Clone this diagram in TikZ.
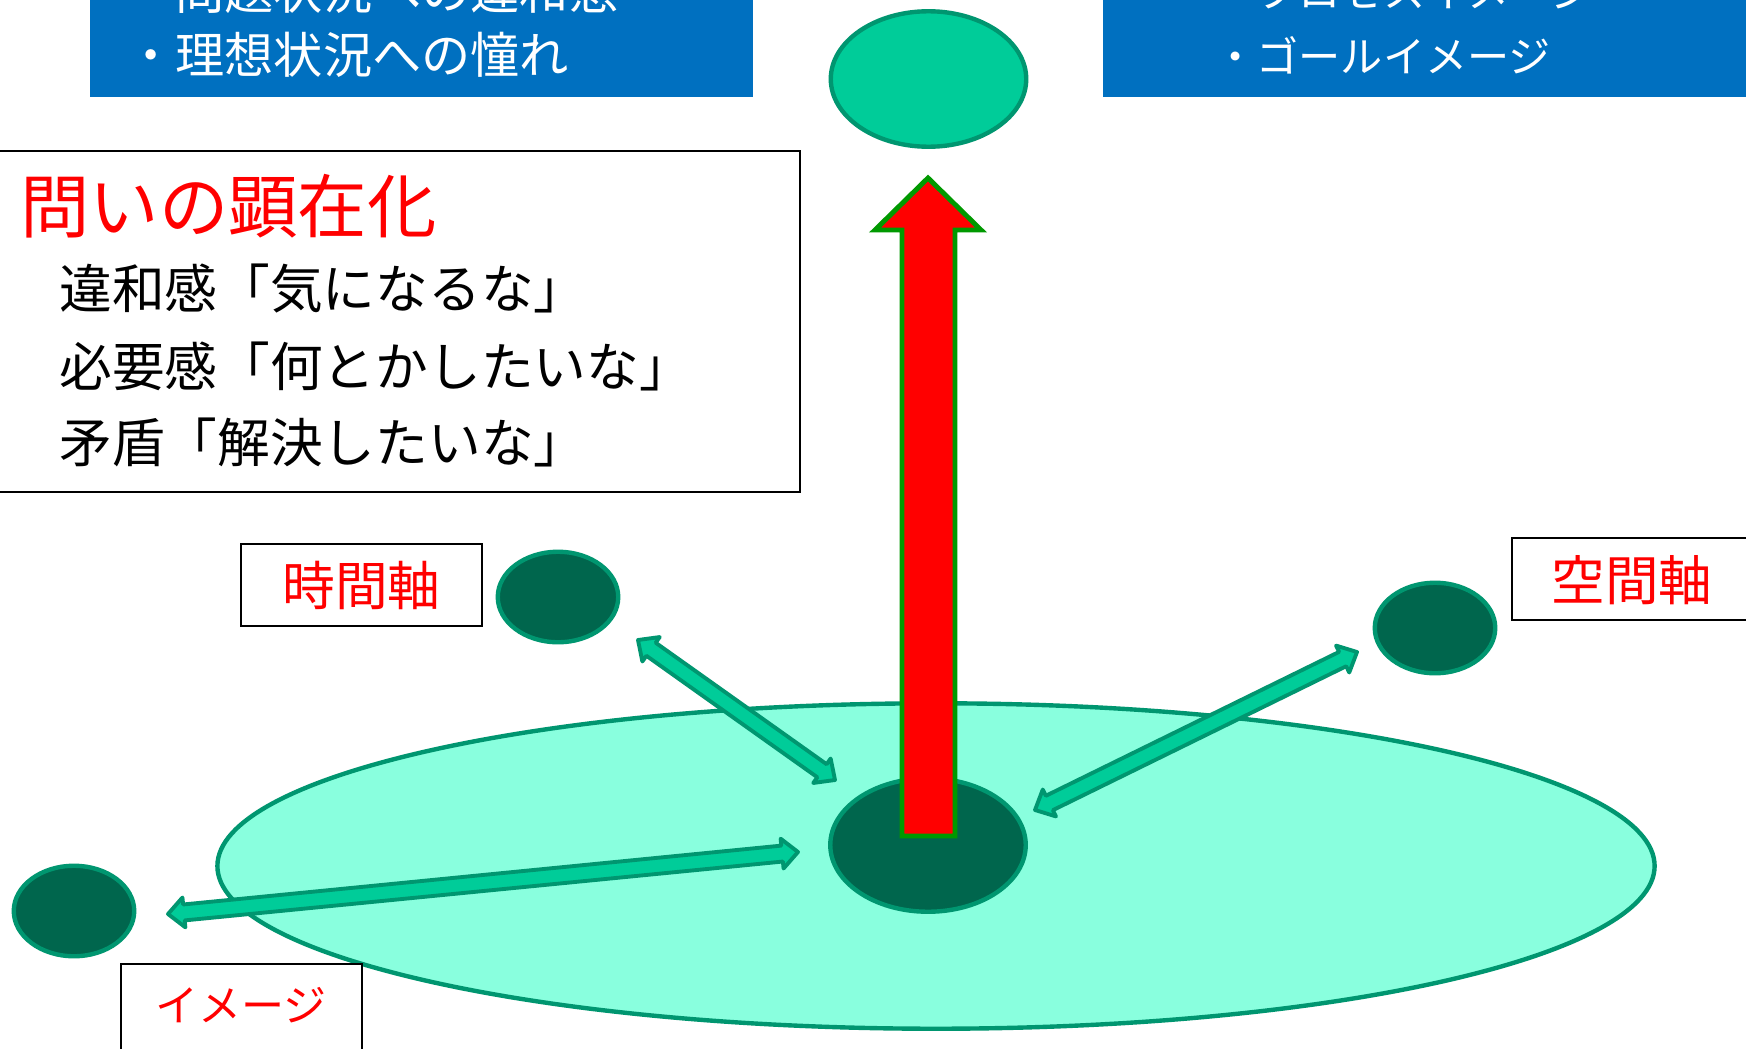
\documentclass[tikz,border=0pt]{standalone}
\usepackage{fontspec}
\setmainfont{Noto Sans CJK JP}
\usetikzlibrary{shapes.geometric,calc}
\definecolor{boxblue}{HTML}{0070C0}
\definecolor{lightaqua}{HTML}{89FFDE}
\definecolor{rimgreen}{HTML}{009670}
\definecolor{darkgreen}{HTML}{00664D}
\definecolor{midgreen}{HTML}{00CC99}
\definecolor{arrowrim}{HTML}{009900}
\newcommand{\arrHL}{0.32cm}
\newcommand{\arrHW}{0.30cm}
\newcommand{\arrSW}{0.16cm}
\newcommand{\dblarrow}[2]{%
  \draw[blockarrow] (#1)
    -- ($(#1)!\arrHL!(#2)!\arrHW!90:(#2)$)
    -- ($(#1)!\arrHL!(#2)!\arrSW!90:(#2)$)
    -- ($(#2)!\arrHL!(#1)!\arrSW!-90:(#1)$)
    -- ($(#2)!\arrHL!(#1)!\arrHW!-90:(#1)$)
    -- (#2)
    -- ($(#2)!\arrHL!(#1)!\arrHW!90:(#1)$)
    -- ($(#2)!\arrHL!(#1)!\arrSW!90:(#1)$)
    -- ($(#1)!\arrHL!(#2)!\arrSW!-90:(#2)$)
    -- ($(#1)!\arrHL!(#2)!\arrHW!-90:(#2)$)
    -- cycle;}
\tikzset{
  bluebox/.style={fill=boxblue, draw=none, inner sep=0pt},
  whitetext/.style={text=white, inner sep=0pt, anchor=west},
  frame/.style={draw=black, line width=1.1pt, fill=white, inner sep=0pt},
  redtext/.style={text=red, inner sep=0pt},
  blacktext/.style={text=black, inner sep=0pt, anchor=west},
  bigdisc/.style={ellipse, draw=rimgreen, line width=2.5pt, inner sep=0pt},
  smalldisc/.style={ellipse, draw=rimgreen, fill=darkgreen, line width=2.5pt, inner sep=0pt,
                    minimum width=2.41cm, minimum height=1.81cm},
  blockarrow/.style={draw=rimgreen, fill=midgreen, line width=2.2pt, line join=round},
  redarrow/.style={draw=arrowrim, fill=red, line width=2.8pt, line join=miter}
}
\begin{document}
\begin{tikzpicture}[x=0.02cm, y=-0.02cm]
\clip (0,0) rectangle (1746,1048);
\fill[white] (0,0) rectangle (1746,1048);

% top blue boxes
\node[bluebox, anchor=south west, minimum width=13.26cm, minimum height=2.4cm] (lbox) at (90,97) {};
\node[bluebox, anchor=south west, minimum width=13.4cm, minimum height=2.4cm] (rbox) at (1103,97) {};
\node[whitetext, font=\fontsize{28pt}{32pt}\selectfont] (l1) at (126,-9) {・問題状況への違和感};
\node[whitetext, font=\fontsize{28pt}{32pt}\selectfont] (l2) at (126,55) {・理想状況への憧れ};
\node[whitetext, font=\fontsize{24pt}{28pt}\selectfont] (r1) at (1214,-9) {・プロセスイメージ};
\node[whitetext, font=\fontsize{24pt}{28pt}\selectfont] (r2) at (1214,55) {・ゴールイメージ};

% question box
\node[frame, anchor=north west, minimum width=16.08cm, minimum height=6.82cm] (qbox) at (-5,150) {};
\node[redtext, anchor=west, font=\fontsize{39.5pt}{45pt}\selectfont] (qtitle) at (20,206) {問いの顕在化};
\node[blacktext, font=\fontsize{30pt}{35pt}\selectfont] (q1) at (59,289) {違和感「気になるな」};
\node[blacktext, font=\fontsize{30pt}{35pt}\selectfont] (q2) at (59,366) {必要感「何とかしたいな」};
\node[blacktext, font=\fontsize{30pt}{35pt}\selectfont] (q3) at (59,442) {矛盾「解決したいな」};

% top ellipse
\node[bigdisc, fill=midgreen, minimum width=3.91cm, minimum height=2.71cm] (goal) at (928.5,79) {};

% base plane
\node[bigdisc, fill=lightaqua, minimum width=28.75cm, minimum height=6.51cm] (plane) at (936,866) {};
\node[smalldisc, minimum width=3.91cm, minimum height=2.67cm] (core) at (928,845) {};

% outer discs
\node[smalldisc] (time) at (558,597) {};
\node[smalldisc] (space) at (1435,628) {};
\node[smalldisc] (image) at (74,911) {};

% double block arrows
\coordinate (ia) at (168,914);
\coordinate (ib) at (798,852);
\coordinate (ta) at (638,640);
\coordinate (tb) at (835,780);
\coordinate (sa) at (1035,810);
\coordinate (sb) at (1357,652);
\dblarrow{ia}{ib}
\dblarrow{ta}{tb}
\dblarrow{sa}{sb}

% red upward arrow
\draw[redarrow] (902,836) -- (902,230) -- (875,230) -- (928,178) -- (981,230) -- (955,230) -- (955,836) -- cycle;

% axis labels
\node[frame, redtext, minimum width=4.82cm, minimum height=1.64cm, font=\fontsize{30pt}{35pt}\selectfont] (tlabel) at (361.5,585) {時間軸};
\node[frame, anchor=west, minimum width=5cm, minimum height=1.64cm] (slabel) at (1511,579) {};
\node[redtext, font=\fontsize{30.5pt}{35pt}\selectfont] (stext) at (1632,580) {空間軸};
\node[frame, anchor=north west, minimum width=4.82cm, minimum height=2.2cm] (ilabel) at (120,963) {};
\node[redtext, font=\fontsize{24.5pt}{30pt}\selectfont] (itext) at (241,1005) {イメージ};
\end{tikzpicture}
\end{document}
